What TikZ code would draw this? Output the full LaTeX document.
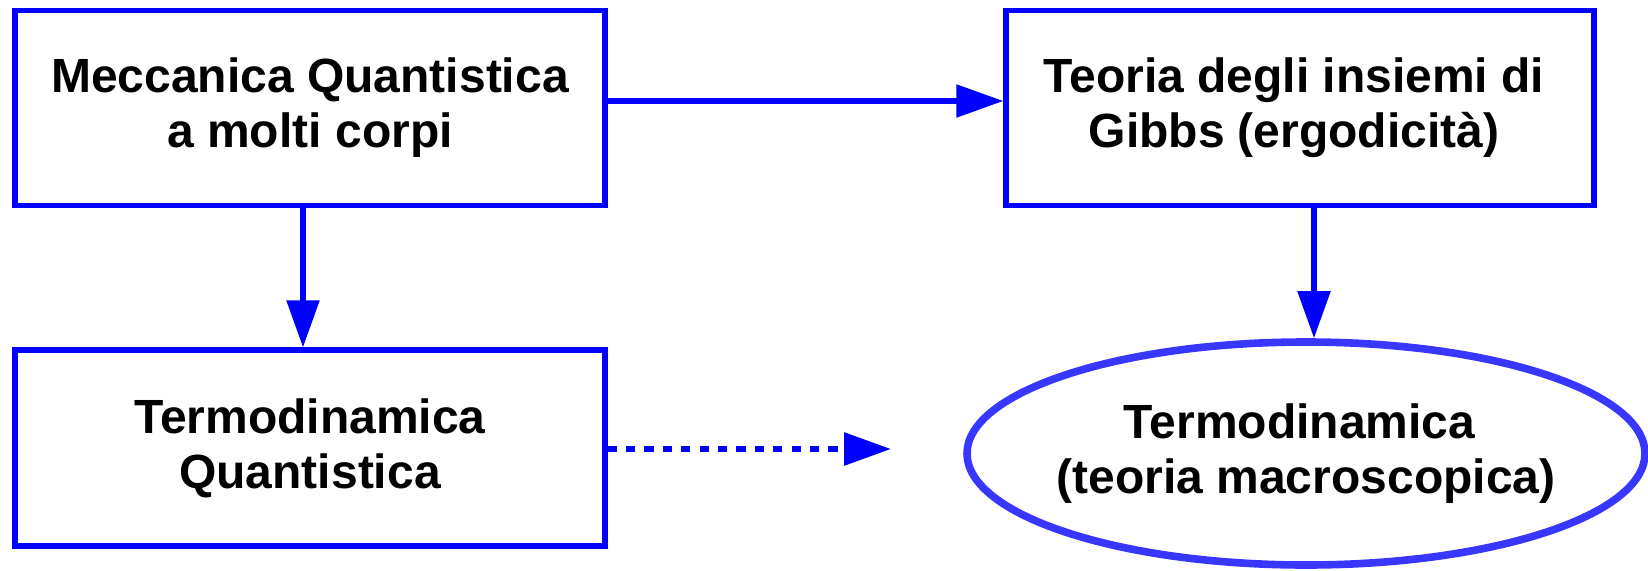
\documentclass[tikz,border=0pt]{standalone}
\usepackage{fontspec}
\setmainfont{Liberation Sans}
\usetikzlibrary{arrows.meta,shapes.geometric}
\definecolor{boxblue}{RGB}{0,0,255}
\definecolor{ellblue}{RGB}{55,55,255}
\tikzset{
  txt/.style={font=\fontsize{48}{55}\selectfont\bfseries, align=center, text=black},
  boxnode/.style={txt, draw=boxblue, line width=5.3pt, rectangle, inner sep=0pt},
  ellnode/.style={draw=ellblue, line width=7.6pt, ellipse, inner sep=0pt},
  arr/.style={draw=boxblue, line width=5.3pt, -{Triangle[length=47pt,width=32pt]}},
  dasharr/.style={arr, line width=6pt, dash pattern=on 9.2pt off 9.2pt}
}
\begin{document}
\begin{tikzpicture}[x=1pt,y=-1pt]
\useasboundingbox (0,0) rectangle (1648,570);
\node[boxnode, minimum width=590pt, minimum height=194.5pt] (b1) at (310,108) {Meccanica Quantistica\\a molti corpi};
\node[boxnode, minimum width=588pt, minimum height=194.5pt] (b2) at (1300,108) {Teoria degli insiemi di\kern12pt\\Gibbs (ergodicità)\kern12pt};
\node[boxnode, minimum width=590pt, minimum height=196pt] (b3) at (310,448) {Termodinamica\\Quantistica};
\node[ellnode, minimum width=678pt, minimum height=223pt] (e) at (1306,453.5) {};
\node[txt] (et) at (e.center) {Termodinamica\kern13pt\\(teoria macroscopica)};
\coordinate (dend) at (891,449);
\draw[arr] ([yshift=7pt]b1.east) -- ([yshift=7pt]b2.west);
\draw[arr] ([xshift=-7pt]b1.south) -- ([xshift=-7pt]b3.north);
\draw[arr] ([xshift=14pt]b2.south) -- ([xshift=14pt]b2.south |- e.north);
\draw[dasharr] (b3.east |- dend) -- (dend);
\end{tikzpicture}
\end{document}
